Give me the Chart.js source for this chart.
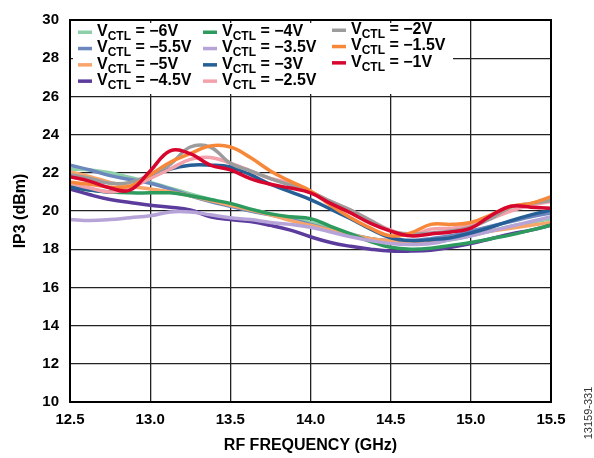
<!DOCTYPE html>
<html>
<head>
<meta charset="utf-8">
<script src="https://cdn.jsdelivr.net/npm/chart.js@4/dist/chart.umd.min.js"></script>
<style>
    html, body { margin: 0; padding: 0; background: #fff; }
    canvas { display: block; }
</style>
</head>
<body>
<canvas id="ip3Chart" width="594" height="458"></canvas>
<script>
const FONT = "'Liberation Sans', Arial, sans-serif";

// RF frequency sweep (GHz)
const freqGHz = [12.5, 12.625, 12.75, 12.875, 13.0, 13.125, 13.25, 13.375, 13.5,
    13.625, 13.75, 13.875, 14.0, 14.125, 14.25, 14.375, 14.5, 14.625, 14.75,
    14.875, 15.0, 15.125, 15.25, 15.375, 15.5];

// control voltages, legend order
const vctlLabels = ['\u22126V', '\u22125.5V', '\u22125V', '\u22124.5V', '\u22124V', '\u22123.5V',
    '\u22123V', '\u22122.5V', '\u22122V', '\u22121.5V', '\u22121V'];

const lineColors = ['#8ecfaa', '#6b87bd', '#f8a56c', '#5b3b9b', '#2e9b5e', '#b6a3d7',
    '#255f96', '#f3a1ab', '#9c9c9c', '#f7883a', '#d7062e'];

// IP3 (dBm) per control voltage
const ip3M6 = [22.2, 22.15, 22.0, 21.75, 21.5, 21.2, 20.9, 20.6, 20.3, 20.1, 19.85, 19.6, 19.4,
    19.1, 18.8, 18.55, 18.4, 18.35, 18.4, 18.5, 18.7, 18.95, 19.2, 19.4, 19.6];
const ip3M5p5 = [22.4, 22.15, 21.85, 21.65, 21.45, 21.15, 20.8, 20.5, 20.25, 20.0, 19.8, 19.55, 19.3,
    19.0, 18.75, 18.55, 18.45, 18.45, 18.55, 18.7, 18.95, 19.2, 19.45, 19.7, 19.9];
const ip3M5 = [22.05, 21.8, 21.5, 21.3, 21.15, 21.0, 20.8, 20.55, 20.3, 20.05, 19.8, 19.5, 19.25,
    19.0, 18.75, 18.55, 18.45, 18.4, 18.45, 18.6, 18.75, 18.95, 19.1, 19.25, 19.4];
const ip3M4p5 = [21.15, 20.85, 20.6, 20.45, 20.3, 20.2, 20.05, 19.7, 19.55, 19.45, 19.25, 19.0, 18.65,
    18.35, 18.15, 18.0, 17.9, 17.9, 17.95, 18.1, 18.3, 18.55, 18.8, 19.0, 19.25];
const ip3M4 = [21.3, 21.1, 21.0, 20.95, 20.95, 20.95, 20.8, 20.6, 20.4, 20.1, 19.85, 19.7, 19.6,
    19.2, 18.8, 18.4, 18.1, 18.0, 18.05, 18.2, 18.35, 18.55, 18.75, 19.0, 19.25];
const ip3M3p5 = [19.55, 19.5, 19.55, 19.65, 19.75, 19.95, 19.95, 19.8, 19.65, 19.55, 19.4, 19.3, 19.15,
    18.9, 18.65, 18.45, 18.3, 18.25, 18.3, 18.5, 18.7, 18.95, 19.2, 19.45, 19.7];
const ip3M3 = [21.25, 21.1, 21.0, 21.2, 21.75, 22.2, 22.4, 22.4, 22.3, 21.9, 21.4, 21.0, 20.6,
    20.1, 19.6, 19.05, 18.6, 18.45, 18.5, 18.6, 18.85, 19.15, 19.5, 19.8, 20.05];
const ip3M2p5 = [21.45, 21.2, 21.0, 21.2, 21.7, 22.2, 22.7, 22.8, 22.5, 22.1, 21.7, 21.45, 21.0,
    20.5, 20.05, 19.5, 19.0, 18.75, 19.05, 19.1, 19.25, 19.6, 20.0, 20.3, 20.5];
const ip3M2 = [21.9, 21.7, 21.45, 21.5, 21.9, 22.45, 23.35, 23.35, 22.5, 22.1, 21.7, 21.35, 21.0,
    20.5, 20.05, 19.5, 18.95, 18.8, 18.85, 18.95, 19.15, 19.6, 20.2, 20.4, 20.55];
const ip3M1p5 = [21.5, 21.4, 21.25, 21.3, 21.9, 22.55, 23.0, 23.4, 23.35, 22.8, 22.1, 21.55, 21.05,
    20.3, 19.65, 19.1, 18.7, 18.85, 19.3, 19.3, 19.4, 19.8, 20.25, 20.4, 20.75];
const ip3M1 = [21.8, 21.55, 21.2, 21.1, 22.1, 23.15, 23.0, 22.4, 22.15, 21.7, 21.4, 21.2, 20.95,
    20.4, 19.9, 19.35, 18.95, 18.7, 18.8, 18.9, 19.1, 19.75, 20.25, 20.2, 20.15];

const ip3Series = [ip3M6, ip3M5p5, ip3M5, ip3M4p5, ip3M4, ip3M3p5,
    ip3M3, ip3M2p5, ip3M2, ip3M1p5, ip3M1];

const yTicks = [10, 12, 14, 16, 18, 20, 22, 24, 26, 28, 30];
const xTicks = [12.5, 13.0, 13.5, 14.0, 14.5, 15.0, 15.5];

function buildDatasets() {
    return ip3Series.map((values, i) => ({
        label: vctlLabels[i],
        data: values.map((v, k) => ({ x: freqGHz[k], y: v })),
        borderColor: lineColors[i],
        borderWidth: 3.5,
        pointRadius: 0,
        tension: 0.4,
        fill: false,
        // later voltages sit on top
        order: ip3Series.length - i
    }));
}

// legend drawn in a white box inside the plot, with V subscript CTL
const vctlLegend = {
    id: 'vctlLegend',
    afterDatasetsDraw(chart) {
        const { ctx, chartArea } = chart;
        const boxX = chartArea.left + 3;
        const boxY = chartArea.top + 3;
        ctx.save();
        ctx.fillStyle = '#fff';
        ctx.fillRect(boxX, boxY, 380, 71);

        const colX = [78, 203, 332];
        const colDy = [0, 0, -2];
        ctx.textBaseline = 'alphabetic';
        chart.data.datasets.forEach((ds, i) => {
            const col = Math.floor(i / 4);
            const row = i % 4;
            const base = 36 + row * 16.3 + colDy[col];
            const x = colX[col];

            ctx.fillStyle = ds.borderColor;
            ctx.fillRect(x, base - 5.5, 14, 3.5);

            ctx.fillStyle = '#000';
            ctx.font = 'bold 16px ' + FONT;
            let tx = x + 19;
            ctx.fillText('V', tx, base);
            tx += ctx.measureText('V').width;
            ctx.font = 'bold 12px ' + FONT;
            ctx.fillText('CTL', tx, base + 4);
            tx += ctx.measureText('CTL').width;
            ctx.font = 'bold 16px ' + FONT;
            ctx.fillText(' = ' + ds.label, tx, base);
        });
        ctx.restore();
    },
    afterDraw(chart) {
        const { ctx, chartArea } = chart;
        ctx.save();
        ctx.strokeStyle = '#000';
        ctx.lineWidth = 2;
        ctx.strokeRect(chartArea.left, chartArea.top,
            chartArea.right - chartArea.left, chartArea.bottom - chartArea.top);

        // figure number along the right edge
        ctx.translate(589, 413);
        ctx.rotate(-Math.PI / 2);
        ctx.fillStyle = '#333';
        ctx.font = '11px ' + FONT;
        ctx.textAlign = 'center';
        ctx.textBaseline = 'middle';
        ctx.fillText('13159-331', 0, 0);
        ctx.restore();
    }
};

function createIp3Chart() {
    const ctx = document.getElementById('ip3Chart').getContext('2d');

    new Chart(ctx, {
        type: 'line',
        data: { datasets: buildDatasets() },
        plugins: [vctlLegend],
        options: {
            responsive: false,
            animation: false,
            events: [],
            layout: { padding: { top: 17, right: 43, left: 0, bottom: 0 } },
            plugins: {
                legend: { display: false },
                tooltip: { enabled: false }
            },
            scales: {
                x: {
                    type: 'linear',
                    min: xTicks[0],
                    max: xTicks[xTicks.length - 1],
                    afterBuildTicks: scale => { scale.ticks = xTicks.map(v => ({ value: v })); },
                    afterFit: scale => { scale.height = 56; },
                    grid: { color: '#222', lineWidth: 1.3, drawTicks: false },
                    border: { display: false },
                    ticks: {
                        padding: 9,
                        maxRotation: 0,
                        autoSkip: false,
                        color: '#000',
                        font: { family: FONT, size: 15, weight: 'bold' },
                        callback: v => Number(v).toFixed(1)
                    },
                    title: {
                        display: true,
                        text: 'RF FREQUENCY (GHz)',
                        color: '#000',
                        font: { family: FONT, size: 16, weight: 'bold' },
                        padding: { top: 0, bottom: 3 }
                    }
                },
                y: {
                    min: yTicks[0],
                    max: yTicks[yTicks.length - 1],
                    afterBuildTicks: scale => { scale.ticks = yTicks.map(v => ({ value: v })); },
                    afterFit: scale => { scale.width = 70; },
                    grid: { color: '#222', lineWidth: 1.3, drawTicks: false },
                    border: { display: false },
                    ticks: {
                        padding: 11,
                        color: '#000',
                        font: { family: FONT, size: 15, weight: 'bold' }
                    },
                    title: {
                        display: true,
                        text: 'IP3 (dBm)',
                        color: '#000',
                        font: { family: FONT, size: 16, weight: 'bold' },
                        padding: { top: 11, bottom: 0 }
                    }
                }
            }
        }
    });
}

document.addEventListener('DOMContentLoaded', createIp3Chart);
</script>
</body>
</html>
